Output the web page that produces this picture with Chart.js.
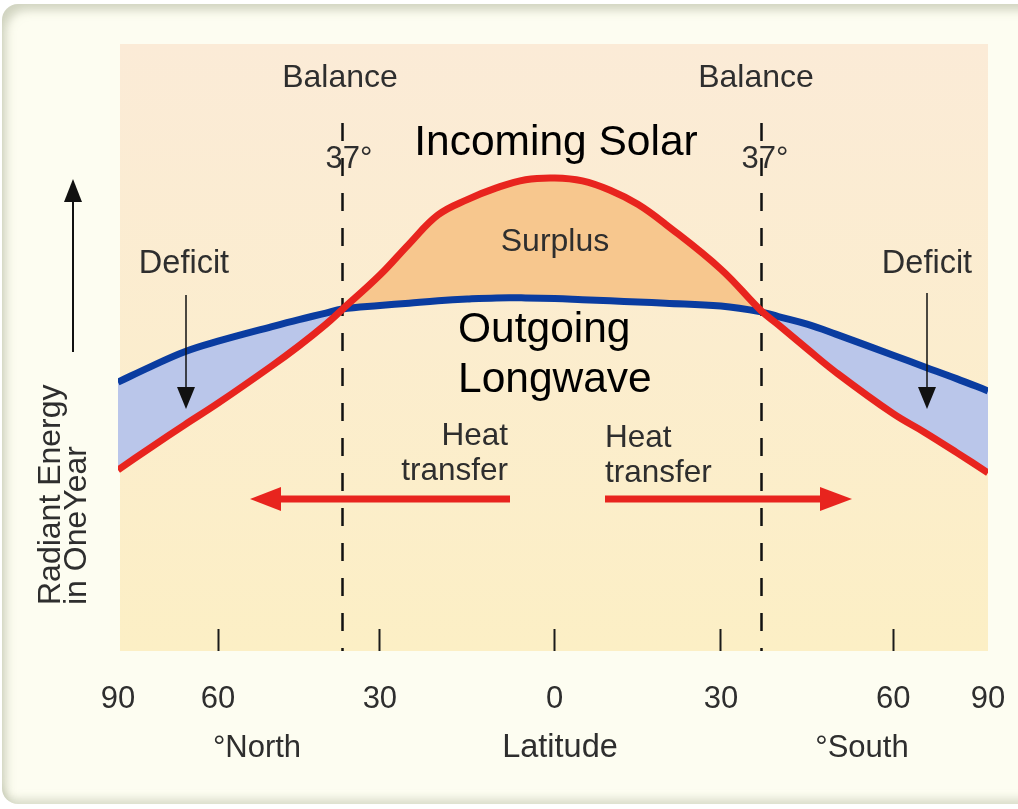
<!DOCTYPE html>
<html>
<head>
<meta charset="utf-8">
<script src="https://cdn.jsdelivr.net/npm/chart.js@4.4.1/dist/chart.umd.min.js"></script>
<style>
  html, body { margin: 0; padding: 0; background: #fff; }
  #wrap { position: relative; width: 1018px; height: 809px; overflow: hidden; }
  #panel {
    position: absolute; left: 2px; top: 4px; width: 1060px; height: 800px;
    border-radius: 16px; background: #fdfdf1;
    box-shadow: inset 9px 11px 10px -5px rgba(165, 172, 145, 0.5),
                inset 0 -10px 8px -5px rgba(165, 172, 145, 0.4);
  }
  canvas { position: absolute; left: 0; top: 0; }
</style>
</head>
<body>
<div id="wrap">
  <div id="panel"></div>
  <canvas id="chart" width="1018" height="809"></canvas>
</div>
<script>
// Data (latitude: negative = North, positive = South; energy in relative units)
const LATITUDES = [-90, -80, -70, -60, -50, -45, -40, -37, -30, -25, -20, -15, -10, -5, 0, 5, 10, 15, 20, 30, 37, 40, 45, 50, 60, 70, 80, 90];
const INCOMING_SOLAR = [27.2, 31.1, 34.9, 38.6, 45.0, 48.4, 52.1, 54.6, 60.5, 65.8, 70.8, 73.4, 75.4, 76.8, 77.1, 76.6, 75.0, 72.6, 69.2, 61.5, 54.4, 52.0, 47.9, 43.9, 36.8, 33.6, 30.2, 26.7];
const OUTGOING_LONGWAVE = [42.2, 44.9, 47.4, 49.2, 51.7, 52.9, 54.0, 54.7, 55.3, 55.7, 56.1, 56.4, 56.6, 56.6, 56.5, 56.3, 56.1, 55.9, 55.7, 55.2, 54.2, 53.4, 52.1, 50.4, 46.8, 44.8, 42.8, 40.7];
const LAT_TICKS = [-90, -60, -30, 0, 30, 60, 90];
const BALANCE_LATS = [-37, 37];

// the latitude axis of the original is stretched unevenly
const LAT_STOPS = [-90, -60, -30, 0, 30, 60, 90];
const LAT_FRACS = [0, 0.115, 0.301, 0.502, 0.693, 0.891, 1];

const RED = '#e8241e';
const BLUE = '#0a3ca0';
const SURPLUS = '#f7c78e';
const DEFICIT = '#bac6ea';
const FONT = '"Liberation Sans", Arial, Helvetica, sans-serif';
const TEXT = '#2e2e2e';

function interp(v, xs, ys) {
    for (let i = 1; i < xs.length; i++) {
        if (v <= xs[i] || i === xs.length - 1) {
            const t = (v - xs[i - 1]) / (xs[i] - xs[i - 1]);
            return ys[i - 1] + t * (ys[i] - ys[i - 1]);
        }
    }
}

class LatitudeScale extends Chart.LinearScale {
    getPixelForValue(value) {
        return this.getPixelForDecimal(interp(value, LAT_STOPS, LAT_FRACS));
    }
    getValueForPixel(pixel) {
        return interp(this.getDecimalForPixel(pixel), LAT_FRACS, LAT_STOPS);
    }
}
LatitudeScale.id = 'latitude';
LatitudeScale.defaults = Chart.LinearScale.defaults;
Chart.register(LatitudeScale);

function text(ctx, str, x, y, size, align, color) {
    ctx.font = size + 'px ' + FONT;
    ctx.textAlign = align || 'center';
    ctx.textBaseline = 'alphabetic';
    ctx.fillStyle = color || TEXT;
    ctx.fillText(str, x, y);
}

// straight arrow with a filled triangular head at (x2, y2)
function arrow(ctx, x1, y1, x2, y2, width, headLen, headHalf, color) {
    const ang = Math.atan2(y2 - y1, x2 - x1);
    const bx = x2 - Math.cos(ang) * headLen, by = y2 - Math.sin(ang) * headLen;
    ctx.strokeStyle = color;
    ctx.fillStyle = color;
    ctx.lineWidth = width;
    ctx.beginPath();
    ctx.moveTo(x1, y1);
    ctx.lineTo(bx + Math.cos(ang) * 2, by + Math.sin(ang) * 2);
    ctx.stroke();
    ctx.beginPath();
    ctx.moveTo(x2, y2);
    ctx.lineTo(bx - Math.sin(ang) * headHalf, by + Math.cos(ang) * headHalf);
    ctx.lineTo(bx + Math.sin(ang) * headHalf, by - Math.cos(ang) * headHalf);
    ctx.closePath();
    ctx.fill();
}

const decor = {
    id: 'decor',
    beforeDraw(chart) {
        const { ctx, chartArea: a } = chart;
        const g = ctx.createLinearGradient(0, a.top, 0, a.bottom + 22);
        g.addColorStop(0, '#fbebd7');
        g.addColorStop(1, '#fcefc5');
        ctx.save();
        ctx.fillStyle = g;
        ctx.fillRect(a.left + 2, a.top, a.right - a.left - 2, a.bottom + 22 - a.top);
        ctx.restore();
    },
    beforeDatasetsDraw(chart) {
        const { ctx, chartArea: a } = chart;
        const X = chart.scales.x;
        ctx.save();
        ctx.strokeStyle = '#111';
        ctx.lineWidth = 2.5;
        ctx.setLineDash([18, 17]);
        BALANCE_LATS.forEach(lat => {
            const x = Math.round(X.getPixelForValue(lat)) + 0.5;
            ctx.beginPath();
            ctx.moveTo(x, 123);
            ctx.lineTo(x, a.bottom + 22);
            ctx.stroke();
        });
        ctx.restore();
    },
    afterDatasetsDraw(chart) {
        const ctx = chart.ctx;
        ctx.save();
        // heat transfer arrows
        arrow(ctx, 510, 499, 250, 499, 7, 31, 12, RED);
        arrow(ctx, 605, 499, 852, 499, 7, 32, 12, RED);
        // deficit arrows
        arrow(ctx, 186, 295, 186, 409, 1.5, 22, 9, '#111');
        arrow(ctx, 927, 293, 927, 409, 1.5, 22, 9, '#111');
        // y axis arrow
        arrow(ctx, 73, 352, 73, 179, 2, 23, 9, '#111');

        text(ctx, 'Balance', 340, 87, 32);
        text(ctx, 'Balance', 756, 87, 32);
        text(ctx, '37°', 349, 168, 31);
        text(ctx, '37°', 765, 168, 31);
        text(ctx, 'Incoming Solar', 556, 155, 42.5, 'center', '#000');
        text(ctx, 'Surplus', 555, 251, 32);
        text(ctx, 'Deficit', 184, 273, 32.5);
        text(ctx, 'Deficit', 927, 273, 32.5);
        text(ctx, 'Outgoing', 458, 342, 42.5, 'left', '#000');
        text(ctx, 'Longwave', 458, 392, 42.5, 'left', '#000');
        text(ctx, 'Heat', 508, 445, 31.5, 'right');
        text(ctx, 'transfer', 508, 480, 31.5, 'right');
        text(ctx, 'Heat', 605, 447, 31.5, 'left');
        text(ctx, 'transfer', 605, 482, 31.5, 'left');
        ctx.restore();
    },
    afterDraw(chart) {
        const ctx = chart.ctx;
        ctx.save();
        text(ctx, '°North', 257, 757, 31);
        text(ctx, 'Latitude', 560, 757, 32.5);
        text(ctx, '°South', 862, 757, 31);
        ctx.translate(60, 605);
        ctx.rotate(-Math.PI / 2);
        text(ctx, 'Radiant Energy', 0, 0, 32, 'left');
        text(ctx, 'in OneYear', 0, 26, 32, 'left');
        ctx.restore();
    }
};

const toPoints = vals => LATITUDES.map((lat, i) => ({ x: lat, y: vals[i] }));

new Chart(document.getElementById('chart'), {
    type: 'line',
    data: {
        datasets: [
            {
                label: 'Incoming Solar',
                data: toPoints(INCOMING_SOLAR),
                borderColor: RED,
                borderWidth: 7,
                pointRadius: 0,
                tension: 0.4,
                fill: { target: 1, above: SURPLUS, below: DEFICIT }
            },
            {
                label: 'Outgoing Longwave',
                data: toPoints(OUTGOING_LONGWAVE),
                borderColor: BLUE,
                borderWidth: 7,
                pointRadius: 0,
                tension: 0.4,
                fill: false
            }
        ]
    },
    options: {
        responsive: false,
        animation: false,
        layout: { padding: { left: 118, right: 30, top: 44, bottom: 0 } },
        plugins: {
            legend: { display: false },
            tooltip: { enabled: false },
            filler: { drawTime: 'beforeDatasetsDraw' }
        },
        scales: {
            x: {
                type: 'latitude',
                min: -90,
                max: 90,
                afterFit: s => {
                    s.height = 180;
                    s.paddingLeft = 0;
                    s.paddingRight = 0;
                },
                afterBuildTicks: s => { s.ticks = LAT_TICKS.map(v => ({ value: v })); },
                border: { display: false },
                grid: {
                    drawOnChartArea: false,
                    tickLength: 22,
                    tickWidth: 2,
                    tickColor: c => Math.abs(c.tick.value) === 90 ? 'rgba(0,0,0,0)' : '#1a1a1a'
                },
                ticks: {
                    autoSkip: false,
                    maxRotation: 0,
                    padding: 30,
                    color: TEXT,
                    font: { family: FONT, size: 31 },
                    callback: v => String(Math.abs(v))
                }
            },
            y: { display: false, min: 0, max: 100 }
        }
    },
    plugins: [decor]
});
</script>
</body>
</html>
